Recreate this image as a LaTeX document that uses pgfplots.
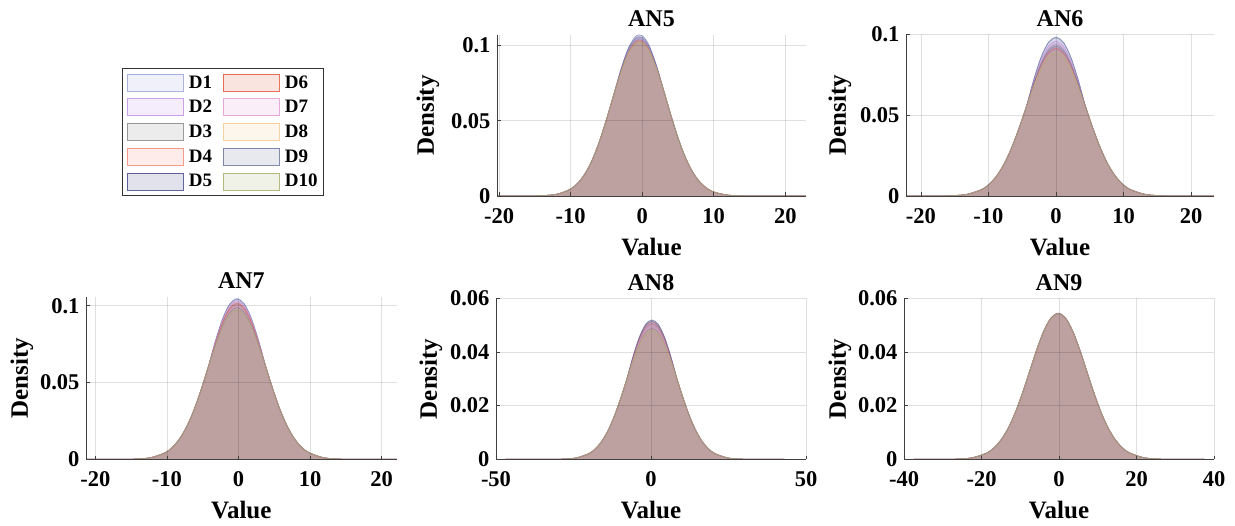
\documentclass[border=0pt]{standalone}
\usepackage{fontspec}
\setmainfont{Liberation Serif}
\usepackage{pgfplots}
\usepackage{pgfplotstable}
\pgfplotsset{compat=1.18}

\definecolor{c1}{RGB}{150,160,215}
\definecolor{c2}{RGB}{190,140,230}
\definecolor{c3}{RGB}{130,130,130}
\definecolor{c4}{RGB}{245,130,110}
\definecolor{c5}{RGB}{60,65,130}
\definecolor{c6}{RGB}{225,80,50}
\definecolor{c7}{RGB}{225,150,210}
\definecolor{c8}{RGB}{245,200,140}
\definecolor{c9}{RGB}{100,110,150}
\definecolor{c10}{RGB}{165,170,100}

\pgfplotstableread{
x D1 D2 D3 D4 D5 D6 D7 D8 D9 D10
-20.3 0 0 0 0 0 0 0 0 0 0
-15 0.000078 0.000078 0.000078 0.000078 0.000078 0.000078 0.000078 0.000078 0.000078 0.000078
-12 0.00111 0.00111 0.00111 0.00111 0.00111 0.00111 0.00111 0.00111 0.00111 0.00111
-10 0.00463 0.00463 0.00463 0.00463 0.00463 0.00463 0.00463 0.00463 0.00463 0.00463
-9 0.00855 0.00855 0.00855 0.00855 0.00855 0.00855 0.00855 0.00855 0.00855 0.00855
-8 0.01476 0.01476 0.01476 0.01476 0.01476 0.01476 0.01476 0.01476 0.01476 0.01476
-7 0.02384 0.02384 0.02384 0.02384 0.02384 0.02384 0.02384 0.02384 0.02384 0.02384
-6 0.03597 0.03597 0.03597 0.03597 0.03597 0.03597 0.03597 0.03597 0.03597 0.03597
-5 0.05074 0.05074 0.05074 0.05074 0.05074 0.05074 0.05074 0.05074 0.05074 0.05074
-4 0.0669 0.0669 0.0669 0.0669 0.0669 0.0669 0.0669 0.0669 0.0669 0.0669
-3 0.08344 0.08304 0.08264 0.08244 0.08383 0.08224 0.08284 0.08204 0.08323 0.08192
-2 0.09690 0.09612 0.09535 0.09495 0.09768 0.09456 0.09573 0.09417 0.09651 0.09394
-1 0.10472 0.10373 0.10275 0.10225 0.10571 0.10176 0.10324 0.10127 0.10422 0.10097
-0.4 0.1060 0.1050 0.1040 0.1035 0.1070 0.1030 0.1045 0.1025 0.1055 0.1022
0.2 0.10472 0.10373 0.10275 0.10225 0.10571 0.10176 0.10324 0.10127 0.10422 0.10097
1 0.09899 0.09815 0.09731 0.09688 0.09983 0.09646 0.09773 0.09604 0.09857 0.09579
2 0.08629 0.08588 0.08547 0.08526 0.08670 0.08505 0.08567 0.08485 0.08608 0.08472
3 0.07015 0.07015 0.07015 0.07015 0.07015 0.07015 0.07015 0.07015 0.07015 0.07015
4 0.05391 0.05391 0.05391 0.05391 0.05391 0.05391 0.05391 0.05391 0.05391 0.05391
5 0.03874 0.03874 0.03874 0.03874 0.03874 0.03874 0.03874 0.03874 0.03874 0.03874
6 0.02602 0.02602 0.02602 0.02602 0.02602 0.02602 0.02602 0.02602 0.02602 0.02602
7 0.01634 0.01634 0.01634 0.01634 0.01634 0.01634 0.01634 0.01634 0.01634 0.01634
8 0.00959 0.00959 0.00959 0.00959 0.00959 0.00959 0.00959 0.00959 0.00959 0.00959
9 0.00526 0.00526 0.00526 0.00526 0.00526 0.00526 0.00526 0.00526 0.00526 0.00526
10 0.00270 0.00270 0.00270 0.00270 0.00270 0.00270 0.00270 0.00270 0.00270 0.00270
12 0.00058 0.00058 0.00058 0.00058 0.00058 0.00058 0.00058 0.00058 0.00058 0.00058
15 0.000035 0.000035 0.000035 0.000035 0.000035 0.000035 0.000035 0.000035 0.000035 0.000035
22.9 0 0 0 0 0 0 0 0 0 0
}\tAfive

\pgfplotstableread{
x D1 D2 D3 D4 D5 D6 D7 D8 D9 D10
-22.2 0 0 0 0 0 0 0 0 0 0
-17.6 0.00003 0.00003 0.00003 0.00003 0.00003 0.00003 0.00003 0.00003 0.00003 0.00003
-15.4 0.000198 0.000198 0.000198 0.000198 0.000198 0.000198 0.000198 0.000198 0.000198 0.000198
-13.2 0.001007 0.001007 0.001007 0.001007 0.001007 0.001007 0.001007 0.001007 0.001007 0.001007
-11 0.003984 0.003984 0.003984 0.003984 0.003984 0.003984 0.003984 0.003984 0.003984 0.003984
-9.9 0.007214 0.007214 0.007214 0.007214 0.007214 0.007214 0.007214 0.007214 0.007214 0.007214
-8.8 0.012271 0.012271 0.012271 0.012271 0.012271 0.012271 0.012271 0.012271 0.012271 0.012271
-7.7 0.019608 0.019608 0.019608 0.019608 0.019608 0.019608 0.019608 0.019608 0.019608 0.019608
-6.6 0.029436 0.029436 0.029436 0.029436 0.029436 0.029436 0.029436 0.029436 0.029436 0.029436
-5.5 0.041511 0.041511 0.041511 0.041511 0.041511 0.041511 0.041511 0.041511 0.041511 0.041511
-4.4 0.054993 0.054993 0.054993 0.054993 0.054993 0.054993 0.054993 0.054993 0.054993 0.054993
-3.3 0.071611 0.070705 0.069799 0.068893 0.071838 0.068667 0.070252 0.06776 0.069346 0.067534
-2.2 0.085573 0.083985 0.082397 0.080809 0.08597 0.080412 0.083191 0.078824 0.081603 0.078427
-1.1 0.094662 0.092724 0.090786 0.088848 0.095147 0.088364 0.091755 0.086425 0.089817 0.085941
0 0.097669 0.095669 0.093669 0.091669 0.098169 0.091169 0.094669 0.089169 0.092669 0.088669
1.1 0.094662 0.092724 0.090786 0.088848 0.095147 0.088364 0.091755 0.086425 0.089817 0.085941
2.2 0.085573 0.083985 0.082397 0.080809 0.08597 0.080412 0.083191 0.078824 0.081603 0.078427
3.3 0.071611 0.070705 0.069799 0.068893 0.071838 0.068667 0.070252 0.06776 0.069346 0.067534
4.4 0.054993 0.054993 0.054993 0.054993 0.054993 0.054993 0.054993 0.054993 0.054993 0.054993
5.5 0.041511 0.041511 0.041511 0.041511 0.041511 0.041511 0.041511 0.041511 0.041511 0.041511
6.6 0.029436 0.029436 0.029436 0.029436 0.029436 0.029436 0.029436 0.029436 0.029436 0.029436
7.7 0.019608 0.019608 0.019608 0.019608 0.019608 0.019608 0.019608 0.019608 0.019608 0.019608
8.8 0.012271 0.012271 0.012271 0.012271 0.012271 0.012271 0.012271 0.012271 0.012271 0.012271
9.9 0.007214 0.007214 0.007214 0.007214 0.007214 0.007214 0.007214 0.007214 0.007214 0.007214
11 0.003984 0.003984 0.003984 0.003984 0.003984 0.003984 0.003984 0.003984 0.003984 0.003984
13.2 0.001007 0.001007 0.001007 0.001007 0.001007 0.001007 0.001007 0.001007 0.001007 0.001007
15.4 0.000198 0.000198 0.000198 0.000198 0.000198 0.000198 0.000198 0.000198 0.000198 0.000198
17.6 0.00003 0.00003 0.00003 0.00003 0.00003 0.00003 0.00003 0.00003 0.00003 0.00003
23.4 0 0 0 0 0 0 0 0 0 0
}\tAsix

\pgfplotstableread{
x D1 D2 D3 D4 D5 D6 D7 D8 D9 D10
-21.3 0 0 0 0 0 0 0 0 0 0
-16.2 0.0000335 0.0000335 0.0000335 0.0000335 0.0000335 0.0000335 0.0000335 0.0000335 0.0000335 0.0000335
-14.2 0.000218 0.000218 0.000218 0.000218 0.000218 0.000218 0.000218 0.000218 0.000218 0.000218
-12.2 0.001108 0.001108 0.001108 0.001108 0.001108 0.001108 0.001108 0.001108 0.001108 0.001108
-10.2 0.004382 0.004382 0.004382 0.004382 0.004382 0.004382 0.004382 0.004382 0.004382 0.004382
-9.2 0.007935 0.007935 0.007935 0.007935 0.007935 0.007935 0.007935 0.007935 0.007935 0.007935
-8.2 0.013498 0.013498 0.013498 0.013498 0.013498 0.013498 0.013498 0.013498 0.013498 0.013498
-7.2 0.021569 0.021569 0.021569 0.021569 0.021569 0.021569 0.021569 0.021569 0.021569 0.021569
-6.2 0.032380 0.032380 0.032380 0.032380 0.032380 0.032380 0.032380 0.032380 0.032380 0.032380
-5.2 0.045662 0.045662 0.045662 0.045662 0.045662 0.045662 0.045662 0.045662 0.045662 0.045662
-4.2 0.060493 0.060493 0.060493 0.060493 0.060493 0.060493 0.060493 0.060493 0.060493 0.060493
-3.2 0.077549 0.076643 0.075964 0.075737 0.077323 0.07619 0.07687 0.074604 0.074831 0.074151
-2.2 0.091986 0.090398 0.089207 0.08881 0.091589 0.089604 0.090796 0.086825 0.087222 0.08603
-1.2 0.101512 0.099574 0.098121 0.097636 0.101028 0.098605 0.100059 0.095213 0.095698 0.094244
-0.2 0.104736 0.102736 0.101236 0.100736 0.104236 0.101736 0.103236 0.098236 0.098736 0.097236
0.8 0.101512 0.099574 0.098121 0.097636 0.101028 0.098605 0.100059 0.095213 0.095698 0.094244
1.8 0.091986 0.090398 0.089207 0.08881 0.091589 0.089604 0.090796 0.086825 0.087222 0.08603
2.8 0.077549 0.076643 0.075964 0.075737 0.077323 0.07619 0.07687 0.074604 0.074831 0.074151
3.8 0.060493 0.060493 0.060493 0.060493 0.060493 0.060493 0.060493 0.060493 0.060493 0.060493
4.8 0.045662 0.045662 0.045662 0.045662 0.045662 0.045662 0.045662 0.045662 0.045662 0.045662
5.8 0.032380 0.032380 0.032380 0.032380 0.032380 0.032380 0.032380 0.032380 0.032380 0.032380
6.8 0.021569 0.021569 0.021569 0.021569 0.021569 0.021569 0.021569 0.021569 0.021569 0.021569
7.8 0.013498 0.013498 0.013498 0.013498 0.013498 0.013498 0.013498 0.013498 0.013498 0.013498
8.8 0.007935 0.007935 0.007935 0.007935 0.007935 0.007935 0.007935 0.007935 0.007935 0.007935
9.8 0.004382 0.004382 0.004382 0.004382 0.004382 0.004382 0.004382 0.004382 0.004382 0.004382
11.8 0.001108 0.001108 0.001108 0.001108 0.001108 0.001108 0.001108 0.001108 0.001108 0.001108
13.8 0.000218 0.000218 0.000218 0.000218 0.000218 0.000218 0.000218 0.000218 0.000218 0.000218
15.8 0.0000335 0.0000335 0.0000335 0.0000335 0.0000335 0.0000335 0.0000335 0.0000335 0.0000335 0.0000335
22.1 0 0 0 0 0 0 0 0 0 0
}\tAseven

\pgfplotstableread{
x D1 D2 D3 D4 D5 D6 D7 D8 D9 D10
-47 0 0 0 0 0 0 0 0 0 0
-32.1 0.0000165 0.0000165 0.0000165 0.0000165 0.0000165 0.0000165 0.0000165 0.0000165 0.0000165 0.0000165
-28.05 0.000108 0.000108 0.000108 0.000108 0.000108 0.000108 0.000108 0.000108 0.000108 0.000108
-24 0.000547 0.000547 0.000547 0.000547 0.000547 0.000547 0.000547 0.000547 0.000547 0.000547
-19.95 0.002164 0.002164 0.002164 0.002164 0.002164 0.002164 0.002164 0.002164 0.002164 0.002164
-17.925 0.003919 0.003919 0.003919 0.003919 0.003919 0.003919 0.003919 0.003919 0.003919 0.003919
-15.9 0.006666 0.006666 0.006666 0.006666 0.006666 0.006666 0.006666 0.006666 0.006666 0.006666
-13.875 0.010651 0.010651 0.010651 0.010651 0.010651 0.010651 0.010651 0.010651 0.010651 0.010651
-11.85 0.015990 0.015990 0.015990 0.015990 0.015990 0.015990 0.015990 0.015990 0.015990 0.015990
-9.825 0.022549 0.022549 0.022549 0.022549 0.022549 0.022549 0.022549 0.022549 0.022549 0.022549
-7.8 0.029873 0.029873 0.029873 0.029873 0.029873 0.029873 0.029873 0.029873 0.029873 0.029873
-5.775 0.03831 0.037857 0.036951 0.037721 0.0384 0.038083 0.037539 0.036724 0.038173 0.036633
-3.75 0.045451 0.044656 0.043068 0.044418 0.045609 0.045053 0.0441 0.042671 0.045212 0.042512
-1.725 0.05016 0.049191 0.047253 0.0489 0.050353 0.049675 0.048512 0.046768 0.049869 0.046574
0.3 0.051752 0.050752 0.048752 0.050452 0.051952 0.051252 0.050052 0.048252 0.051452 0.048052
2.325 0.05016 0.049191 0.047253 0.0489 0.050353 0.049675 0.048512 0.046768 0.049869 0.046574
4.35 0.045451 0.044656 0.043068 0.044418 0.045609 0.045053 0.0441 0.042671 0.045212 0.042512
6.375 0.03831 0.037857 0.036951 0.037721 0.0384 0.038083 0.037539 0.036724 0.038173 0.036633
8.4 0.029873 0.029873 0.029873 0.029873 0.029873 0.029873 0.029873 0.029873 0.029873 0.029873
10.425 0.022549 0.022549 0.022549 0.022549 0.022549 0.022549 0.022549 0.022549 0.022549 0.022549
12.45 0.015990 0.015990 0.015990 0.015990 0.015990 0.015990 0.015990 0.015990 0.015990 0.015990
14.475 0.010651 0.010651 0.010651 0.010651 0.010651 0.010651 0.010651 0.010651 0.010651 0.010651
16.5 0.006666 0.006666 0.006666 0.006666 0.006666 0.006666 0.006666 0.006666 0.006666 0.006666
18.525 0.003919 0.003919 0.003919 0.003919 0.003919 0.003919 0.003919 0.003919 0.003919 0.003919
20.55 0.002164 0.002164 0.002164 0.002164 0.002164 0.002164 0.002164 0.002164 0.002164 0.002164
24.6 0.000547 0.000547 0.000547 0.000547 0.000547 0.000547 0.000547 0.000547 0.000547 0.000547
28.65 0.000108 0.000108 0.000108 0.000108 0.000108 0.000108 0.000108 0.000108 0.000108 0.000108
32.7 0.0000165 0.0000165 0.0000165 0.0000165 0.0000165 0.0000165 0.0000165 0.0000165 0.0000165 0.0000165
43 0 0 0 0 0 0 0 0 0 0
}\tAeight

\pgfplotstableread{
x D1 D2 D3 D4 D5 D6 D7 D8 D9 D10
-37.5 0 0 0 0 0 0 0 0 0 0
-29.6 0.0000182 0.0000182 0.0000182 0.0000182 0.0000182 0.0000182 0.0000182 0.0000182 0.0000182 0.0000182
-25.925 0.000119 0.000119 0.000119 0.000119 0.000119 0.000119 0.000119 0.000119 0.000119 0.000119
-22.25 0.000603 0.000603 0.000603 0.000603 0.000603 0.000603 0.000603 0.000603 0.000603 0.000603
-18.575 0.002385 0.002385 0.002385 0.002385 0.002385 0.002385 0.002385 0.002385 0.002385 0.002385
-16.7375 0.004318 0.004318 0.004318 0.004318 0.004318 0.004318 0.004318 0.004318 0.004318 0.004318
-14.9 0.007346 0.007346 0.007346 0.007346 0.007346 0.007346 0.007346 0.007346 0.007346 0.007346
-13.0625 0.011738 0.011738 0.011738 0.011738 0.011738 0.011738 0.011738 0.011738 0.011738 0.011738
-11.225 0.017621 0.017621 0.017621 0.017621 0.017621 0.017621 0.017621 0.017621 0.017621 0.017621
-9.3875 0.024850 0.024850 0.024850 0.024850 0.024850 0.024850 0.024850 0.024850 0.024850 0.024850
-7.55 0.032921 0.032921 0.032921 0.032921 0.032921 0.032921 0.032921 0.032921 0.032921 0.032921
-5.7125 0.041062 0.040971 0.040926 0.041016 0.041062 0.040971 0.04088 0.041016 0.040971 0.040926
-3.875 0.048059 0.0479 0.047821 0.047979 0.048059 0.0479 0.047741 0.047979 0.0479 0.047821
-2.0375 0.052802 0.052608 0.052511 0.052705 0.052802 0.052608 0.052414 0.052705 0.052608 0.052511
-0.2 0.054478 0.054278 0.054178 0.054378 0.054478 0.054278 0.054078 0.054378 0.054278 0.054178
1.6375 0.052802 0.052608 0.052511 0.052705 0.052802 0.052608 0.052414 0.052705 0.052608 0.052511
3.475 0.048059 0.0479 0.047821 0.047979 0.048059 0.0479 0.047741 0.047979 0.0479 0.047821
5.3125 0.041062 0.040971 0.040926 0.041016 0.041062 0.040971 0.04088 0.041016 0.040971 0.040926
7.15 0.032921 0.032921 0.032921 0.032921 0.032921 0.032921 0.032921 0.032921 0.032921 0.032921
8.9875 0.024850 0.024850 0.024850 0.024850 0.024850 0.024850 0.024850 0.024850 0.024850 0.024850
10.825 0.017621 0.017621 0.017621 0.017621 0.017621 0.017621 0.017621 0.017621 0.017621 0.017621
12.6625 0.011738 0.011738 0.011738 0.011738 0.011738 0.011738 0.011738 0.011738 0.011738 0.011738
14.5 0.007346 0.007346 0.007346 0.007346 0.007346 0.007346 0.007346 0.007346 0.007346 0.007346
16.3375 0.004318 0.004318 0.004318 0.004318 0.004318 0.004318 0.004318 0.004318 0.004318 0.004318
18.175 0.002385 0.002385 0.002385 0.002385 0.002385 0.002385 0.002385 0.002385 0.002385 0.002385
21.85 0.000603 0.000603 0.000603 0.000603 0.000603 0.000603 0.000603 0.000603 0.000603 0.000603
25.525 0.000119 0.000119 0.000119 0.000119 0.000119 0.000119 0.000119 0.000119 0.000119 0.000119
29.2 0.0000182 0.0000182 0.0000182 0.0000182 0.0000182 0.0000182 0.0000182 0.0000182 0.0000182 0.0000182
37.5 0 0 0 0 0 0 0 0 0 0
}\tAnine

\pgfplotsset{
  dstyle/.style={smooth, mark=none, line width=0.7pt, draw=#1, draw opacity=0.5, fill=#1, fill opacity=0.15},
  ylshift/.initial=66pt,
  panel/.style={
    scale only axis,
    axis x line*=bottom, axis y line*=left,
    axis line style={black!75, line width=0.9pt, -},
    tick align=inside, major tick length=3.5pt,
    tick style={black!75, line width=0.6pt},
    grid=major, major grid style={black, opacity=0.12, line width=0.6pt},
    axis on top,
    ymin=0,
    scaled ticks=false,
    /pgf/number format/assume math mode=true,
    tick label style={font=\bfseries\fontsize{22.5}{24}\selectfont},
    xticklabel style={yshift=-9pt},
    yticklabel style={xshift=-3pt},
    xlabel={Value}, ylabel={Density},
    every axis x label/.style={at={([yshift=-51pt]axis description cs:0.5,0)}, anchor=center, font=\bfseries\fontsize{25}{27}\selectfont},
    every axis y label/.style={at={([xshift=-\pgfkeysvalueof{/pgfplots/ylshift}]axis description cs:0,0.5)}, rotate=90, anchor=center, font=\bfseries\fontsize{25}{27}\selectfont},
    every axis title/.style={at={([yshift=8pt]axis description cs:0.5,1)}, anchor=base, font=\bfseries\fontsize{24}{26}\selectfont},
  },
}

\begin{document}
\begin{tikzpicture}
\useasboundingbox (0pt,0pt) rectangle (1235pt,526pt);

% AN5
\begin{axis}[panel, at={(497pt,330pt)}, anchor=south west, width=309pt, height=161pt,
  ylshift=69pt,
  title={AN5}, xmin=-20.3, xmax=22.9, ymax=0.107,
  xtick={-20,-10,0,10,20}, xticklabels={-20,-10,0,10,20},
  ytick={0,0.05,0.1}, yticklabels={0,0.05,0.1},
  legend columns=5, transpose legend,
  legend cell align=left,
  legend image code/.code={\path (0pt,0pt); \draw[#1, draw opacity=0.8] (4pt,-8.5pt) rectangle (60pt,8.5pt);},
  legend style={at={(-1.2126,0.793)}, anchor=north west, draw=black!80, line width=0.8pt,
    inner xsep=0pt, inner ysep=5pt, row sep=7pt,
    font=\bfseries\fontsize{19}{20}\selectfont,
    nodes={inner xsep=5.5pt, inner ysep=0pt},
    /tikz/every even column/.append style={column sep=1pt}},
  legend entries={D1,D2,D3,D4,D5,D6,D7,D8,D9,D10},
]
\pgfplotsinvokeforeach{1,...,10}{\addplot[dstyle=c#1] table[x=x,y=D#1]{\tAfive};}
\end{axis}

% AN6
\begin{axis}[panel, at={(906pt,330pt)}, anchor=south west, width=308pt, height=161.7pt,
  ylshift=66pt,
  title={AN6}, xmin=-22.2, xmax=23.4, ymax=0.1,
  xtick={-20,-10,0,10,20}, xticklabels={-20,-10,0,10,20},
  ytick={0,0.05,0.1}, yticklabels={0,0.05,0.1},
]
\pgfplotsinvokeforeach{1,...,10}{\addplot[dstyle=c#1] table[x=x,y=D#1]{\tAsix};}
\end{axis}

% AN7
\begin{axis}[panel, at={(86pt,66.7pt)}, anchor=south west, width=310.7pt, height=162.6pt,
  ylshift=64pt,
  title={AN7}, xmin=-21.3, xmax=22.1, ymax=0.1059,
  xtick={-20,-10,0,10,20}, xticklabels={-20,-10,0,10,20},
  ytick={0,0.05,0.1}, yticklabels={0,0.05,0.1},
]
\pgfplotsinvokeforeach{1,...,10}{\addplot[dstyle=c#1] table[x=x,y=D#1]{\tAseven};}
\end{axis}

% AN8
\begin{axis}[panel, at={(496pt,66.7pt)}, anchor=south west, width=310pt, height=161pt,
  ylshift=65pt,
  title={AN8}, xmin=-50, xmax=50, ymax=0.06,
  xtick={-50,0,50}, xticklabels={-50,0,50},
  ytick={0,0.02,0.04,0.06}, yticklabels={0,0.02,0.04,0.06},
]
\pgfplotsinvokeforeach{1,...,10}{\addplot[dstyle=c#1] table[x=x,y=D#1]{\tAeight};}
\end{axis}

% AN9
\begin{axis}[panel, at={(904pt,66.7pt)}, anchor=south west, width=310pt, height=161pt,
  ylshift=64pt,
  title={AN9}, xmin=-40, xmax=40, ymax=0.06,
  xtick={-40,-20,0,20,40}, xticklabels={-40,-20,0,20,40},
  ytick={0,0.02,0.04,0.06}, yticklabels={0,0.02,0.04,0.06},
]
\pgfplotsinvokeforeach{1,...,10}{\addplot[dstyle=c#1] table[x=x,y=D#1]{\tAnine};}
\end{axis}
\end{tikzpicture}
\end{document}
